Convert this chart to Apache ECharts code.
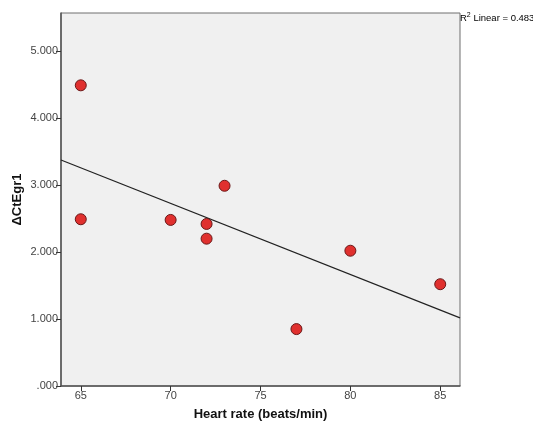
<!DOCTYPE html>
<html><head><meta charset="utf-8">
<script src="https://cdn.jsdelivr.net/npm/echarts@6/dist/echarts.min.js"></script>
<style>html,body{margin:0;padding:0;background:#fff}#c{width:533px;height:423px}</style>
</head><body><div id="c"></div>
<script>
const heartRate = [65, 65, 70, 72, 72, 73, 77, 80, 85];
const deltaCtEgr1 = [4.49, 2.49, 2.48, 2.42, 2.20, 2.99, 0.85, 2.02, 1.52];
const xTicks = [65, 70, 75, 80, 85];
const yTicks = [0, 1, 2, 3, 4, 5];
const xRange = [63.9, 86.1];
const yRange = [0, 5.57];
const r2Text = '0.483';

// least-squares fit line
const n = heartRate.length;
const mx = heartRate.reduce((a,b)=>a+b,0)/n;
const my = deltaCtEgr1.reduce((a,b)=>a+b,0)/n;
let sxy = 0, sxx = 0;
for (let i=0;i<n;i++){ sxy += (heartRate[i]-mx)*(deltaCtEgr1[i]-my); sxx += (heartRate[i]-mx)**2; }
const slope = sxy/sxx, icpt = my - slope*mx;
const fitLine = xRange.map(x => [x, icpt + slope*x]);

const chart = echarts.init(document.getElementById('c'), null, {renderer:'canvas'});
const font = 'Arial, "Liberation Sans", sans-serif';
chart.setOption({
  animation:false,
  grid:{left:61, top:13, right:73, bottom:37, outerBoundsMode:'none', containLabel:false,
    show:true, backgroundColor:'#F0F0F0', borderColor:'#6e6e6e', borderWidth:1},
  xAxis:{type:'value', min:xRange[0], max:xRange[1],
    name:'Heart rate (beats/min)', nameLocation:'middle', nameGap:22, nameMoveOverlap:false,
    nameTextStyle:{fontFamily:font, fontWeight:'bold', fontSize:13, color:'#111'},
    axisLine:{show:true, onZero:false, lineStyle:{color:'#555', width:1.5}},
    axisTick:{show:true, length:5, customValues:xTicks, lineStyle:{color:'#333'}},
    axisLabel:{customValues:xTicks, fontFamily:font, fontSize:11, color:'#444', margin:4},
    splitLine:{show:false}},
  yAxis:{type:'value', min:yRange[0], max:yRange[1],
    name:'ΔCtEgr1', nameLocation:'middle', nameGap:37, nameMoveOverlap:false,
    nameTextStyle:{fontFamily:font, fontWeight:'bold', fontSize:13, color:'#111'},
    axisLine:{show:true, onZero:false, lineStyle:{color:'#555', width:1.5}},
    axisTick:{show:true, length:5, customValues:yTicks, lineStyle:{color:'#333'}},
    axisLabel:{customValues:yTicks, fontFamily:font, fontSize:11, color:'#444', margin:3,
      formatter:v => v===0 ? '.000' : v.toFixed(3)},
    splitLine:{show:false}},
  series:[
    {type:'line', data:fitLine, symbol:'none', lineStyle:{color:'#222', width:1.2}, z:2, silent:true},
    {type:'scatter', data:heartRate.map((x,i)=>[x, deltaCtEgr1[i]]), symbolSize:11,
      itemStyle:{color:'#E0302E', borderColor:'#6a1818', borderWidth:1, opacity:1}, z:3}
  ],
  graphic:[{type:'text', left:460, top:12, style:{
    text:'{s|R}{sup|2}{s| Linear = '+r2Text+'}',
    rich:{s:{fontFamily:font, fontSize:9.5, color:'#222', verticalAlign:'bottom'},
          sup:{fontFamily:font, fontSize:7, color:'#222', padding:[0,0,4,0], verticalAlign:'bottom'}}}}]
});
</script></body></html>
